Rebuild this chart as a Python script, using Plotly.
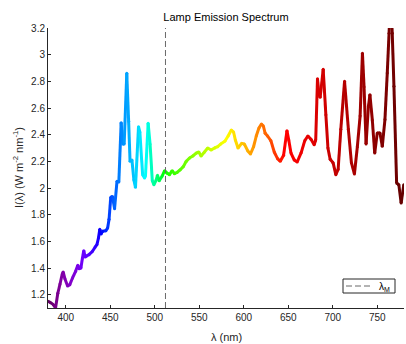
import plotly.graph_objects as go

# Measured lamp emission spectrum
wavelength_nm = [
    380, 383, 386, 388.5, 391, 393.5, 396, 397, 399, 402, 404.5, 407.5, 411, 413.5,
    415, 417, 418.7, 420.2, 421.7, 423.3, 426, 430, 433, 435, 436.7, 438.2, 439.6,
    441.2, 445, 447, 448.6, 450.5, 452.5, 454.8, 457.5, 459.6, 462.2, 464, 465.6,
    468.5, 470.6, 472.2, 474.3, 476.5, 478.3, 481.7, 483.2, 486.3, 488.5, 489.5,
    492.5, 494.7, 497.2, 499, 501.6, 503, 505, 508.3, 511, 514, 516.5, 519.5, 522,
    525, 528.6, 532, 535.3, 539, 542.7, 546.5, 549.4, 552, 555.8, 559.5, 563.3, 567,
    570.7, 574, 578.7, 582.4, 586, 588.5, 590.5, 593.5, 597.6, 600.6, 604.3, 607.5,
    611, 614, 617, 619.8, 622, 624, 626.7, 630.5, 634.2, 637.9, 641, 644.7, 648.5,
    650.5, 653, 656.7, 660, 664.5, 668.5, 672, 675.5, 679.1, 680.8, 682.8, 684.5,
    685.8, 689.2, 692.2, 694.5, 697, 700.3, 703.4, 706, 709, 713.2, 717.5, 720.9,
    724.3, 727.6, 730.7, 733.3, 735.1, 737.4, 740, 741.7, 744.4, 747.1, 750, 753,
    755.6, 758.6, 761.2, 763.2, 765, 766.8, 768.7, 771.7, 774.2, 776.8, 779.8,
]
intensity = [
    1.15, 1.14, 1.125, 1.10, 1.21, 1.28, 1.355, 1.37, 1.32, 1.265, 1.275, 1.325, 1.375, 1.42,
    1.395, 1.40, 1.475, 1.53, 1.483, 1.49, 1.50, 1.525, 1.558, 1.575, 1.625, 1.69, 1.655,
    1.675, 1.68, 1.70, 1.765, 1.93, 1.937, 1.845, 2.05, 2.045, 2.49, 2.33, 2.33,
    2.86, 2.50, 2.20, 2.21, 2.06, 2.005, 2.46, 2.42, 2.10, 2.075, 2.09,
    2.485, 2.33, 2.055, 2.025, 2.06, 2.095, 2.055, 2.09, 2.13, 2.11, 2.10, 2.13, 2.107,
    2.117, 2.137, 2.16, 2.20, 2.225, 2.24, 2.262, 2.27, 2.24, 2.27, 2.30, 2.285, 2.30,
    2.31, 2.33, 2.35, 2.39, 2.435, 2.42, 2.36, 2.30, 2.335, 2.33, 2.28, 2.255,
    2.31, 2.39, 2.45, 2.48, 2.465, 2.41, 2.39, 2.354, 2.27, 2.22, 2.20, 2.245, 2.43,
    2.36, 2.262, 2.21, 2.195, 2.265, 2.355, 2.39, 2.365, 2.325, 2.36, 2.82, 2.70,
    2.68, 2.89, 2.55, 2.30, 2.215, 2.19, 2.10, 2.14, 2.44, 2.80, 2.44, 2.19,
    2.105, 2.31, 2.54, 3.01, 2.76, 2.33, 2.61, 2.70, 2.51, 2.262, 2.413, 2.413,
    2.313, 2.513, 2.863, 3.16, 3.45, 3.16, 2.763, 2.037, 2.025, 1.888, 2.025,
]

LAMBDA_M = 512  # marked wavelength
LEGEND_LABEL = "λ<sub>M</sub>"

x_ticks = [400, 450, 500, 550, 600, 650, 700, 750]
y_ticks = [1.2, 1.4, 1.6, 1.8, 2.0, 2.2, 2.4, 2.6, 2.8, 3.0, 3.2]
y_tick_text = ["1.2", "1.4", "1.6", "1.8", "2", "2.2", "2.4", "2.6", "2.8", "3", "3.2"]

X_RANGE = [380, 780]
Y_RANGE = [1.1, 3.2]

INK = "#262626"
MARK_GRAY = "rgb(105,105,105)"
FONT = "Liberation Sans, Arial, Helvetica, sans-serif"

# plot area in pixels (for placing the key box)
PLOT_L, PLOT_R, PLOT_T, PLOT_B = 48, 404, 28, 308


def px_to_paper_x(px):
    return (px - PLOT_L) / (PLOT_R - PLOT_L)


def px_to_paper_y(py):
    return (PLOT_B - py) / (PLOT_B - PLOT_T)


def wavelength_to_rgb(w, gamma=0.8):
    """Approximate visible colour of a wavelength in nm."""
    if w < 440:
        r, g, b = -(w - 440) / (440 - 380), 0.0, 1.0
    elif w < 490:
        r, g, b = 0.0, (w - 440) / (490 - 440), 1.0
    elif w < 510:
        r, g, b = 0.0, 1.0, -(w - 510) / (510 - 490)
    elif w < 580:
        r, g, b = (w - 510) / (580 - 510), 1.0, 0.0
    elif w < 645:
        r, g, b = 1.0, -(w - 645) / (645 - 580), 0.0
    else:
        r, g, b = 1.0, 0.0, 0.0
    # brightness falls off towards both ends of the visible range
    if w < 420:
        f = 0.3 + 0.7 * (w - 380) / (420 - 380)
    elif w <= 650:
        f = 1.0
    else:
        f = 0.3 + 0.7 * (780 - w) / (780 - 650)
    f = max(f, 0.3)

    def c(v):
        return int(round(255 * (v * f) ** gamma)) if v > 0 else 0

    return f"rgb({c(r)},{c(g)},{c(b)})"


fig = go.Figure()

# spectrum drawn as short segments, each tinted by its own wavelength
for i in range(len(wavelength_nm) - 1):
    mid = 0.5 * (wavelength_nm[i] + wavelength_nm[i + 1])
    fig.add_trace(go.Scatter(
        x=[wavelength_nm[i], wavelength_nm[i + 1]],
        y=[intensity[i], intensity[i + 1]],
        mode="lines",
        line=dict(color=wavelength_to_rgb(mid), width=3),
        showlegend=False,
        hoverinfo="skip",
    ))

# round off the joints between segments
fig.add_trace(go.Scatter(
    x=wavelength_nm,
    y=intensity,
    mode="markers",
    marker=dict(size=3, color=[wavelength_to_rgb(w) for w in wavelength_nm], line=dict(width=0)),
    showlegend=False,
    hoverinfo="skip",
))

# marked wavelength
fig.add_trace(go.Scatter(
    x=[LAMBDA_M, LAMBDA_M],
    y=Y_RANGE,
    mode="lines",
    line=dict(color=MARK_GRAY, width=1, dash="6px,3px"),
    name=LEGEND_LABEL,
    showlegend=False,
    hoverinfo="skip",
))

# compact key in the lower right corner
key_x0, key_x1 = px_to_paper_x(343), px_to_paper_x(395)
key_y0, key_y1 = px_to_paper_y(293), px_to_paper_y(279)
key_mid = px_to_paper_y(286)
shapes = [
    dict(type="rect", xref="paper", yref="paper", x0=key_x0, x1=key_x1, y0=key_y0, y1=key_y1,
         line=dict(color=INK, width=1), fillcolor="white", layer="below"),
    dict(type="line", xref="paper", yref="paper", x0=px_to_paper_x(346), x1=px_to_paper_x(373),
         y0=key_mid, y1=key_mid, line=dict(color=MARK_GRAY, width=1, dash="6px,3px"), layer="above"),
]

fig.update_layout(
    width=406,
    height=344,
    margin=dict(l=PLOT_L, r=406 - PLOT_R, t=PLOT_T, b=344 - PLOT_B),
    paper_bgcolor="white",
    plot_bgcolor="white",
    font=dict(family=FONT, size=10, color=INK),
    showlegend=False,
    title=dict(
        text="Lamp Emission Spectrum",
        x=0.5, xref="paper", xanchor="center",
        y=1 - 17 / 344, yref="container", yanchor="middle",
        font=dict(size=11, color="black"),
    ),
    xaxis=dict(
        range=X_RANGE,
        tickvals=x_ticks,
        ticks="inside", ticklen=3, tickwidth=1, tickcolor=INK,
        showline=True, linecolor=INK, linewidth=1,
        showgrid=False, zeroline=False,
        mirror=False,
    ),
    yaxis=dict(
        range=Y_RANGE,
        tickvals=y_ticks, ticktext=y_tick_text,
        ticks="inside", ticklen=3, tickwidth=1, tickcolor=INK,
        showline=True, linecolor=INK, linewidth=1,
        showgrid=False, zeroline=False,
        mirror=False,
    ),
    shapes=shapes,
    annotations=[
        dict(text="λ (nm)", xref="paper", yref="paper", x=0.5, y=-29 / 280,
             xanchor="center", yanchor="middle", showarrow=False,
             font=dict(size=11, color=INK)),
        dict(text="I(λ) (W m<sup>-2</sup> nm<sup>-1</sup>)", xref="paper", yref="paper",
             x=-30 / 356, y=0.5, xanchor="center", yanchor="middle", textangle=-90,
             showarrow=False, font=dict(size=11, color=INK)),
        dict(text=LEGEND_LABEL, xref="paper", yref="paper",
             x=px_to_paper_x(377), y=px_to_paper_y(286.5),
             xanchor="left", yanchor="middle", showarrow=False,
             font=dict(size=10, color="black")),
    ],
)

fig.write_html("out.html")
